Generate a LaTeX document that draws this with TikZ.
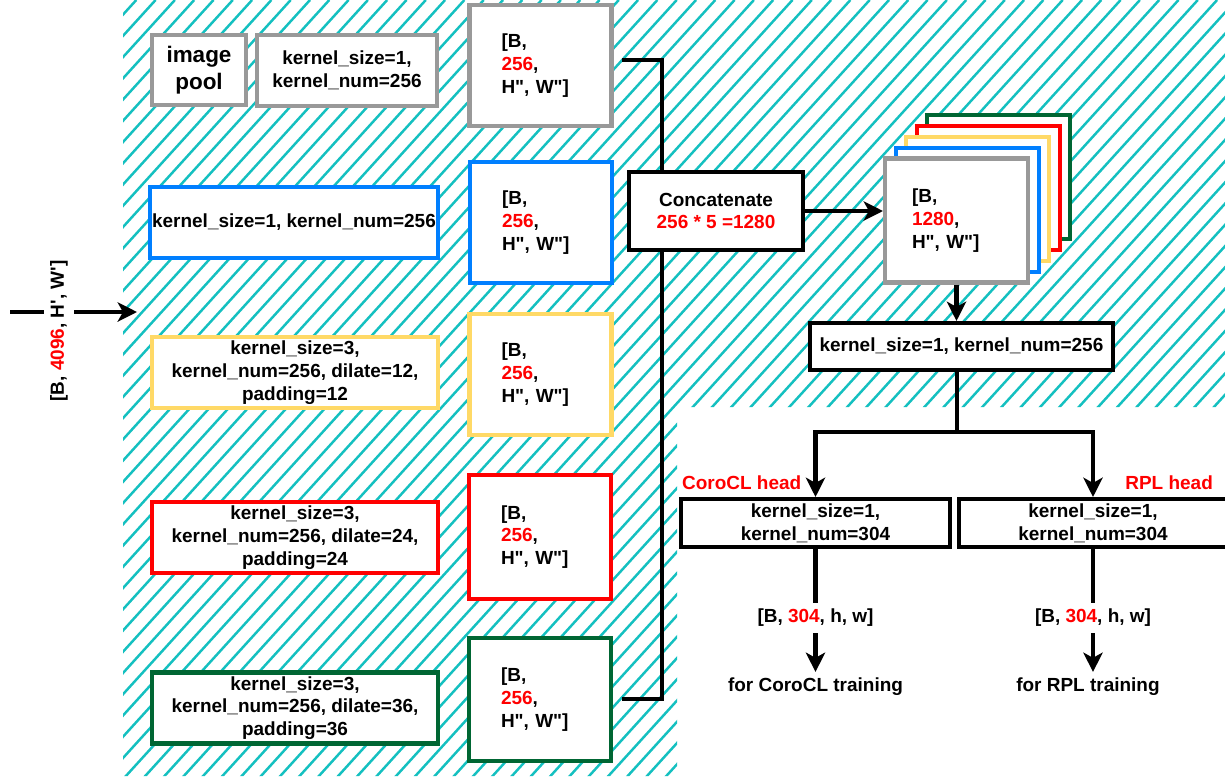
\documentclass[tikz,border=0pt]{standalone}
\usepackage{fontspec}
\newfontfamily\arialfont{Liberation Sans}
\usetikzlibrary{arrows.meta}

\definecolor{hatchteal}{RGB}{20,192,192}
\definecolor{boxgray}{RGB}{153,153,153}
\definecolor{boxblue}{RGB}{0,127,255}
\definecolor{boxyellow}{RGB}{255,217,102}
\definecolor{boxred}{RGB}{255,0,0}
\definecolor{boxgreen}{RGB}{0,102,51}
\newcommand{\rd}[1]{\textcolor{boxred}{#1}}

\begin{document}
\begin{tikzpicture}[x=0.02cm, y=-0.02cm,
	every node/.style={font=\arialfont\bfseries\fontsize{10.8}{12.9}\selectfont},
	box/.style={draw, fill=white, line width=2.3pt, align=center, inner sep=1pt},
	kbox/.style={box, minimum width=5.72cm, minimum height=1.42cm},
	tbox/.style={box, align=left, text width=1.56cm, inner xsep=0.64cm,
		minimum height=2.42cm, font=\arialfont\bfseries\fontsize{10.8}{13}\selectfont},
	hbox/.style={box, draw=black, minimum width=5.38cm, minimum height=0.96cm},
	headlbl/.style={inner sep=1pt, text=boxred},
	conn/.style={line width=2.8pt},
	arr/.style={conn, -{Stealth[length=11pt, width=11pt, inset=3pt]}}
]
\useasboundingbox (0,0) rectangle (1225,778);
\fill[white] (0,0) rectangle (1225,778);

% hatched background
\begin{scope}
	\clip (123,0) -- (1225,0) -- (1225,407) -- (677,407) -- (677,776) -- (123,776) -- cycle;
	\foreach \k in {0,...,95}
		\draw[hatchteal, line width=1.4pt] ({-590+\k*19.3},778) -- ++(707,-778);
\end{scope}

% input
\coordinate (in0) at (10,312);
\coordinate (in1) at (137,312);
\node[rotate=90] (inlbl) at (59,331) {[B, \rd{4096}, H', W']};
\draw[conn] (in0) -- (in0 -| inlbl.north);
\draw[arr] (in0 -| inlbl.south) -- (in1);

% branches
\node[box, draw=boxgray, minimum width=1.88cm, minimum height=1.4cm,
	font=\arialfont\bfseries\fontsize{12.8}{15.3}\selectfont] (pool) at (199,70) {image\\pool};
\node[box, draw=boxgray, minimum width=3.6cm, minimum height=1.42cm] (k0) at (347,70.5) {kernel\_size=1,\\kernel\_num=256};
\node[kbox, draw=boxblue] (k1) at (294,222.5) {kernel\_size=1, kernel\_num=256};
\node[kbox, draw=boxyellow] (k2) at (295,372.5) {kernel\_size=3,\\kernel\_num=256, dilate=12,\\padding=12};
\node[kbox, draw=boxred] (k3) at (295,537.5) {kernel\_size=3,\\kernel\_num=256, dilate=24,\\padding=24};
\node[kbox, draw=boxgreen] (k4) at (295,708) {kernel\_size=3,\\kernel\_num=256, dilate=36,\\padding=36};

% branch outputs
\node[tbox, draw=boxgray] (t0) at (540.5,65.5) {[B,\\\rd{256},\\H", W"]};
\node[tbox, draw=boxblue] (t1) at (541,222.5) {[B,\\\rd{256},\\H", W"]};
\node[tbox, draw=boxyellow] (t2) at (540.5,374.5) {[B,\\\rd{256},\\H", W"]};
\node[tbox, draw=boxred, minimum height=2.48cm] (t3) at (540,537) {[B,\\\rd{256},\\H", W"]};
\node[tbox, draw=boxgreen, minimum height=2.46cm] (t4) at (540,699.5) {[B,\\\rd{256},\\H", W"]};

% concatenate
\coordinate (b0) at (622,60);
\coordinate (bus) at (662,60);
\coordinate (b4) at (622,699);
\draw[conn] (b0) -- (bus) |- (b4);
\node[box, draw=black, minimum width=3.48cm, minimum height=1.56cm] (concat) at (716,211) {Concatenate\\\rd{256 * 5 =1280}};

% stacked feature maps
\foreach \c [count=\i] in {boxgreen, boxred, boxyellow, boxblue}
	\node[box, draw=\c, minimum width=2.86cm, minimum height=2.48cm] (s\i) at ({956.5+(5-\i)*10.6},{220.5-(5-\i)*10.8}) {};
\node[box, draw=boxgray, align=left, text width=1.78cm, inner xsep=0.54cm, minimum height=2.48cm,
	font=\arialfont\bfseries\fontsize{10.8}{13}\selectfont] (s0) at (956.5,220.5) {[B,\\\rd{1280},\\H", W"]};
\draw[arr] (concat.east) -- (concat.east -| s0.west);

% fuse and heads
\node[box, draw=black, minimum width=6.06cm, minimum height=0.94cm] (h0) at (961.5,346.5) {kernel\_size=1, kernel\_num=256};
\draw[arr] (s0.south) -- (s0.south |- h0.north);
\coordinate (split) at (957,432);
\node[hbox] (hl) at (815.5,523) {kernel\_size=1,\\kernel\_num=304};
\node[hbox, minimum width=5.36cm] (hr) at (1093,523) {kernel\_size=1,\\kernel\_num=304};
\draw[conn] (split |- h0.south) -- (split);
\draw[arr] (split) -| (hl.north);
\draw[arr] (split) -| (hr.north);
\node[headlbl, anchor=south west] (clh) at (680,492) {CoroCL head};
\node[headlbl, anchor=south east] (rph) at (1215,492) {RPL head};

% outputs
\node (o1) at (815.5,618) {[B, \rd{304}, h, w]};
\node (f1) at (815.5,687) {for CoroCL training};
\node (o2) at (1093,618) {[B, \rd{304}, h, w]};
\node (f2) at (1088,687) {for RPL training};
\draw[conn] (hl.south) -- (o1.north);
\draw[arr] (o1.south) -- (o1.south |- f1.north);
\draw[conn] (hr.south) -- (o2.north);
\draw[arr] (o2.south) -- (o2.south |- f2.north);
\end{tikzpicture}
\end{document}
